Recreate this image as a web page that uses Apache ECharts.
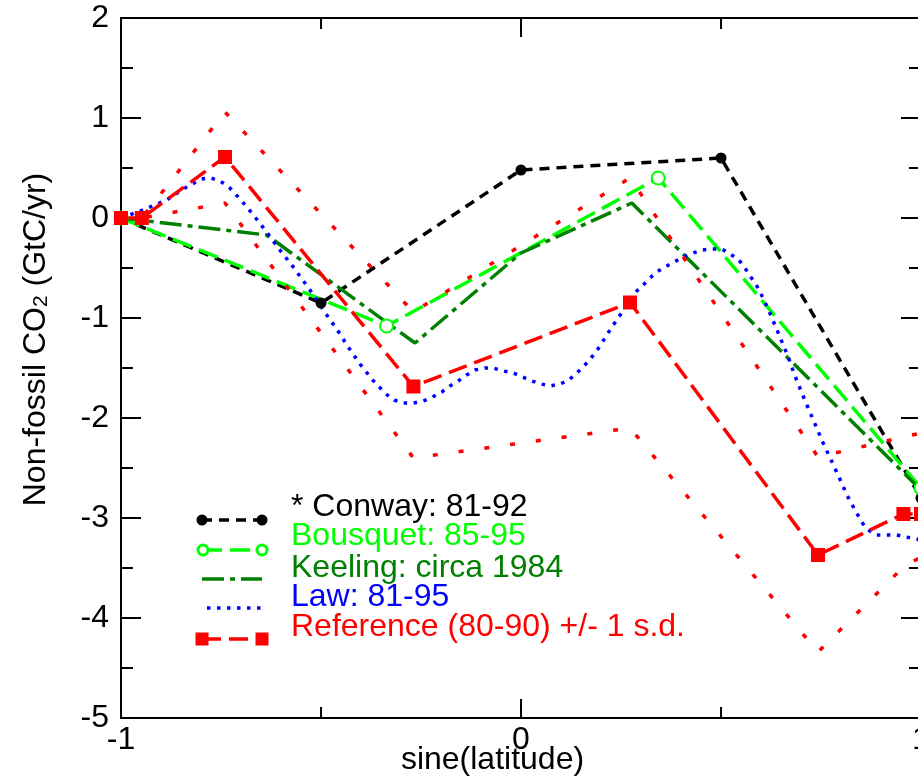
<!DOCTYPE html>
<html><head><meta charset="utf-8">
<script src="https://cdn.jsdelivr.net/npm/echarts@6/dist/echarts.min.js"></script>
<style>html,body{margin:0;padding:0;background:#fff}#c{width:918px;height:776px}</style>
</head><body><div id="c"></div>
<script>
// ---- data ----
const conwayX = [-1, -0.5, 0, 0.5, 1];
const conwayY = [0, -0.85, 0.48, 0.60, -2.80];

const bousquetX = [-1, -0.336, 0.343, 1];
const bousquetY = [0, -1.08, 0.40, -2.70];

const keelingX = [-1, -0.636, -0.265, 0, 0.277, 1];
const keelingY = [0, -0.17, -1.25, -0.35, 0.15, -2.72];

const lawX = [-1, -0.945, -0.886, -0.844, -0.8, -0.775, -0.7525, -0.73, -0.698, -0.665, -0.634, -0.605, -0.573, -0.544, -0.515, -0.4875, -0.459, -0.432, -0.4025, -0.371, -0.3375, -0.317, -0.294, -0.269, -0.244, -0.221, -0.198, -0.1775, -0.157, -0.136, -0.115, -0.09, -0.069, -0.044, -0.019, 0.004, 0.027, 0.05, 0.0725, 0.0975, 0.12, 0.139, 0.156, 0.1725, 0.1875, 0.202, 0.216, 0.229, 0.243, 0.2575, 0.281, 0.303, 0.3225, 0.339, 0.36, 0.3825, 0.406, 0.427, 0.452, 0.477, 0.502, 0.5225, 0.543, 0.56, 0.5725, 0.587, 0.599, 0.62, 0.639, 0.668, 0.685, 0.7125, 0.733, 0.753, 0.774, 0.795, 0.816, 0.839, 0.852, 0.864, 0.889, 0.914, 0.939, 0.9625, 0.9875, 1.0];
const lawY = [0, 0.08, 0.18, 0.29, 0.39, 0.40, 0.37, 0.31, 0.17, 0.01, -0.15, -0.31, -0.47, -0.63, -0.79, -0.96, -1.12, -1.29, -1.46, -1.62, -1.76, -1.82, -1.85, -1.85, -1.83, -1.79, -1.74, -1.68, -1.63, -1.57, -1.52, -1.50, -1.50, -1.53, -1.55, -1.59, -1.63, -1.66, -1.68, -1.66, -1.62, -1.55, -1.49, -1.41, -1.34, -1.25, -1.16, -1.08, -1.00, -0.91, -0.76, -0.68, -0.60, -0.54, -0.49, -0.44, -0.39, -0.355, -0.32, -0.31, -0.31, -0.36, -0.41, -0.50, -0.58, -0.66, -0.75, -0.93, -1.11, -1.39, -1.58, -1.85, -2.04, -2.23, -2.41, -2.59, -2.78, -2.95, -3.04, -3.11, -3.17, -3.17, -3.17, -3.19, -3.21, -3.22];

const refX = [-1, -0.948, -0.74, -0.269, 0.2725, 0.7425, 0.956, 1];
const refY = [0, 0, 0.61, -1.685, -0.845, -3.37, -2.96, -2.96];
const refUpper = [0, 0, 1.06, -0.94, 0.40, -2.39, -2.19, -2.15];
const refLower = [0, 0, 0.15, -2.40, -2.10, -4.34, -3.49, -3.39];

const xTickValues = [-1, 0, 1];
const yMin = -5, yMax = 2;

const legendNames = ['* Conway: 81-92', 'Bousquet: 85-95', 'Keeling: circa 1984', 'Law: 81-95', 'Reference (80-90) +/- 1 s.d.'];
const legendColors = ['#000000', '#00ff00', '#008000', '#0000ff', '#ff0000'];

// ---- styling ----
const FONT = '"Liberation Sans", Arial, Helvetica, sans-serif';
const FS = 32;
const LW = 3.5;
const dashes = {
  conway: [10, 7],
  bousquet: [20, 8],
  keeling: [22, 6, 5, 6],
  law: [3.5, 6.5],
  ref: [19, 8],
  sd: [5, 21]
};

function pairs(xs, ys) { return xs.map((x, i) => [x, ys[i]]); }

const axisLineStyle = { color: '#000', width: 2 };
function xAx(pos, labels) {
  return {
    type: 'value', min: xTickValues[0], max: xTickValues[xTickValues.length - 1], interval: 1, position: pos,
    axisLine: { show: true, onZero: false, lineStyle: axisLineStyle },
    axisTick: { show: true, inside: true, length: 19, lineStyle: axisLineStyle },
    minorTick: { show: true, splitNumber: 2, length: 11, lineStyle: axisLineStyle },
    splitLine: { show: false }, minorSplitLine: { show: false },
    axisLabel: { show: labels, margin: 6, fontSize: FS, fontFamily: FONT, color: '#000', hideOverlap: false }
  };
}
function yAx(pos, labels) {
  return {
    type: 'value', min: yMin, max: yMax, interval: 1, position: pos,
    axisLine: { show: true, onZero: false, lineStyle: axisLineStyle },
    axisTick: { show: true, inside: true, length: 20, lineStyle: axisLineStyle },
    minorTick: { show: true, splitNumber: 2, length: 12, lineStyle: axisLineStyle },
    splitLine: { show: false }, minorSplitLine: { show: false },
    axisLabel: { show: labels, margin: 12, fontSize: FS, fontFamily: FONT, color: '#000', hideOverlap: false }
  };
}

const xBottom = xAx('bottom', true);
xBottom.name = 'sine(latitude)';
xBottom.nameLocation = 'middle';
xBottom.nameGap = 26;
xBottom.nameMoveOverlap = false;
xBottom.nameTextStyle = { fontSize: FS, fontFamily: FONT, color: '#000', padding: [0, 57, 0, 0] };

const yLeft = yAx('left', true);
yLeft.name = '{a|Non-fossil CO}{s|2}{a| (GtC/yr)}';
yLeft.nameLocation = 'middle';
yLeft.nameRotate = 90;
yLeft.nameGap = 69;
yLeft.nameMoveOverlap = false;
yLeft.nameTextStyle = {
  color: '#000', padding: [0, 0, 0, 57],
  rich: {
    a: { fontSize: FS, fontFamily: FONT, color: '#000', lineHeight: 36, verticalAlign: 'bottom' },
    s: { fontSize: 21, fontFamily: FONT, color: '#000', lineHeight: 20, verticalAlign: 'bottom' }
  }
};

function lineSeries(name, xs, ys, color, dash, extra) {
  return Object.assign({
    name, type: 'line', data: pairs(xs, ys), symbol: 'none', showAllSymbol: true,
    itemStyle: { color }, lineStyle: { color, width: LW, type: dash, cap: 'butt' },
    emphasis: { disabled: true }, silent: true, animation: false
  }, extra || {});
}

const series = [
  lineSeries('Conway', conwayX, conwayY, legendColors[0], dashes.conway, { symbol: 'circle', symbolSize: 11 }),
  lineSeries('Bousquet', bousquetX, bousquetY, legendColors[1], dashes.bousquet, {
    symbol: 'emptyCircle', symbolSize: 13, itemStyle: { color: legendColors[1], borderColor: legendColors[1], borderWidth: 3.2 }
  }),
  lineSeries('Keeling', keelingX, keelingY, legendColors[2], dashes.keeling),
  lineSeries('Law', lawX, lawY, legendColors[3], dashes.law),
  lineSeries('Reference', refX, refY, legendColors[4], dashes.ref, { symbol: 'rect', symbolSize: 14 }),
  lineSeries('Reference +1 s.d.', refX, refUpper, legendColors[4], dashes.sd),
  lineSeries('Reference -1 s.d.', refX, refLower, legendColors[4], dashes.sd)
];

// ---- legend drawn as graphic elements (samples with symbols at both ends) ----
const legRowY = [520, 550, 579, 608, 639];
const legTextY = [507.5, 536, 568, 597, 627];
const legX1 = 202, legX2 = 262, legTextX = 291;
const legDash = [dashes.conway, dashes.bousquet, dashes.keeling, dashes.law, dashes.ref];
const graphic = [];
legendNames.forEach((name, i) => {
  const y = legRowY[i], c = legendColors[i];
  const x1 = i === 3 ? 207 : legX1, x2 = i === 3 ? 265 : legX2;
  graphic.push({ type: 'line', silent: true, shape: { x1, y1: y, x2, y2: y },
    style: { stroke: c, lineWidth: LW, lineDash: legDash[i], lineCap: 'butt' } });
  if (i === 0) {
    [x1, x2].forEach(cx => graphic.push({ type: 'circle', silent: true, shape: { cx, cy: y, r: 5.5 }, style: { fill: c } }));
  } else if (i === 1) {
    [x1 + 1, x2].forEach(cx => graphic.push({ type: 'circle', silent: true, shape: { cx, cy: y, r: 5 }, style: { fill: '#fff', stroke: c, lineWidth: 3 } }));
  } else if (i === 4) {
    [x1, x2].forEach(cx => graphic.push({ type: 'rect', silent: true, shape: { x: cx - 6.5, y: y - 6.5, width: 13, height: 13 }, style: { fill: c } }));
  }
  graphic.push({ type: 'text', silent: true, x: legTextX, y: legTextY[i],
    style: { text: name, fill: c, fontSize: FS, fontFamily: FONT, verticalAlign: 'middle', align: 'left' } });
});

const chart = echarts.init(document.getElementById('c'), null, { renderer: 'canvas' });
chart.setOption({
  backgroundColor: '#fff',
  animation: false,
  grid: { left: 121, right: -3, top: 18, bottom: 58, containLabel: false, outerBoundsMode: 'none' },
  xAxis: [xBottom, xAx('top', false)],
  yAxis: [yLeft, yAx('right', false)],
  series,
  graphic
});
</script>
</body></html>
